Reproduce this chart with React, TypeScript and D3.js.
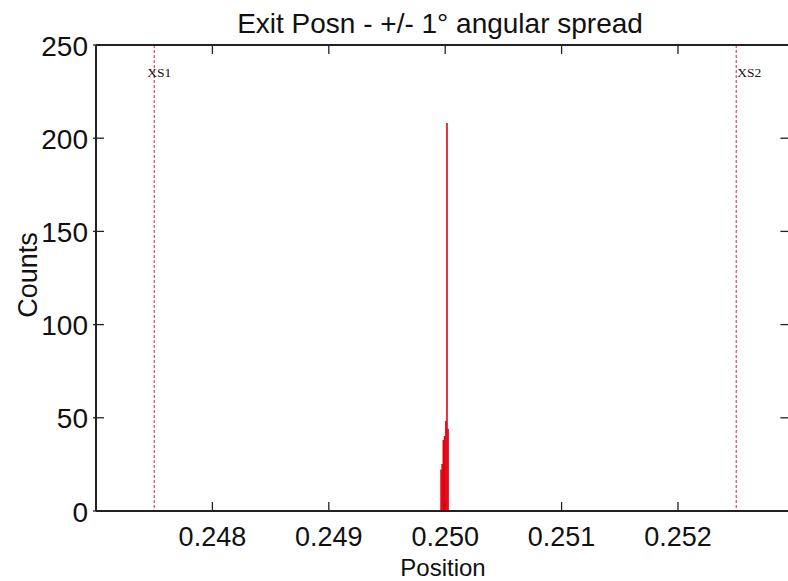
import React, { useEffect, useRef } from "react";
import * as d3 from "d3";

const title = "Exit Posn - +/- 1\u00b0 angular spread";
const xLabel = "Position";
const yLabel = "Counts";
const xTicks = [0.248, 0.249, 0.25, 0.251, 0.252];
const yTicks = [0, 50, 100, 150, 200, 250];
const binCenters = [0.249965, 0.249975, 0.249985, 0.249995, 0.250005, 0.250015, 0.250025];
const binCounts = [22, 25, 38, 40, 48, 208, 44];
const binWidth = 0.00001;
const markerNames = ["XS1", "XS2"];
const markerPositions = [0.2475, 0.2525];

export default function App() {
  const ref = useRef<SVGSVGElement>(null);
  useEffect(() => {
    document.body.style.margin = "0";
    const svg = d3.select(ref.current);
    svg.selectAll("*").remove();
    const W = 788, H = 581;
    const m = { left: 96, top: 45, bottom: 511 };
    const x = d3.scaleLinear().domain([0.247, 0.253]).range([m.left, m.left + 6 * 116.4]);
    const y = d3.scaleLinear().domain([0, 250]).range([m.bottom, m.top]);
    const font = "'Liberation Sans', Arial, sans-serif";

    svg.append("rect").attr("width", W).attr("height", H).attr("fill", "white");

    // markers
    const mk = svg.append("g");
    markerPositions.forEach((p, i) => {
      mk.append("line")
        .attr("x1", x(p)).attr("x2", x(p))
        .attr("y1", y(250)).attr("y2", y(0))
        .attr("stroke", "#d02040").attr("stroke-width", 1)
        .attr("stroke-dasharray", "3,2");
      mk.append("text")
        .attr("x", x(p) + (i === 0 ? -7 : 1)).attr("y", 77)
        .attr("font-family", "'Liberation Serif', 'Times New Roman', serif")
        .attr("font-size", 13.5).attr("fill", "#111")
        .text(markerNames[i]);
    });

    // frame
    const ax = svg.append("g").attr("stroke", "#222").attr("stroke-width", 2).attr("fill", "none");
    ax.append("line").attr("x1", m.left).attr("x2", x(0.253)).attr("y1", y(250)).attr("y2", y(250));
    ax.append("line").attr("x1", m.left).attr("x2", m.left).attr("y1", y(0)).attr("y2", y(250));
    ax.append("line").attr("x1", x(0.253)).attr("x2", x(0.253)).attr("y1", y(0)).attr("y2", y(250));

    const tk = svg.append("g").attr("stroke", "#222").attr("stroke-width", 1.3);
    xTicks.forEach((t) => {
      tk.append("line").attr("x1", x(t)).attr("x2", x(t)).attr("y1", y(0)).attr("y2", y(0) - 9);
      tk.append("line").attr("x1", x(t)).attr("x2", x(t)).attr("y1", y(250)).attr("y2", y(250) + 9);
    });
    yTicks.forEach((t) => {
      tk.append("line").attr("x1", m.left - 3).attr("x2", m.left + 8).attr("y1", y(t)).attr("y2", y(t));
      tk.append("line").attr("x1", x(0.253)).attr("x2", x(0.253) - 14).attr("y1", y(t)).attr("y2", y(t));
    });

    // histogram bars
    svg.append("g").selectAll("rect").data(binCenters).join("rect")
      .attr("x", (d) => x(d - binWidth / 2))
      .attr("width", (d) => x(d + binWidth / 2) - x(d - binWidth / 2))
      .attr("y", (d, i) => y(binCounts[i]))
      .attr("height", (d, i) => y(0) - y(binCounts[i]))
      .attr("fill", "#e00010")
      .attr("stroke", "#e00010")
      .attr("stroke-width", 0.5);

    svg.append("line").attr("x1", m.left).attr("x2", x(0.253)).attr("y1", y(0)).attr("y2", y(0))
      .attr("stroke", "#222").attr("stroke-width", 2);

    const fmt = d3.format(".3f");
    svg.append("g").selectAll("text").data(xTicks).join("text")
      .attr("x", (d) => x(d)).attr("y", 546)
      .attr("text-anchor", "middle").attr("font-family", font).attr("font-size", 27).attr("fill", "#111")
      .text((d) => fmt(d));
    svg.append("g").selectAll("text").data(yTicks).join("text")
      .attr("x", 88).attr("y", (d) => y(d) + 10.5)
      .attr("text-anchor", "end").attr("font-family", font).attr("font-size", 28).attr("fill", "#111")
      .text((d) => String(d));

    svg.append("text").attr("x", 440).attr("y", 33).attr("text-anchor", "middle")
      .attr("font-family", font).attr("font-size", 28).attr("fill", "#111").text(title);
    svg.append("text").attr("x", 443).attr("y", 576).attr("text-anchor", "middle")
      .attr("font-family", font).attr("font-size", 24).attr("fill", "#111").text(xLabel);
    svg.append("text").attr("transform", "translate(37,275) rotate(-90)").attr("text-anchor", "middle")
      .attr("font-family", font).attr("font-size", 27).attr("fill", "#111").text(yLabel);
  }, []);
  return <svg ref={ref} width={788} height={581} style={{ display: "block" }} />;
}
